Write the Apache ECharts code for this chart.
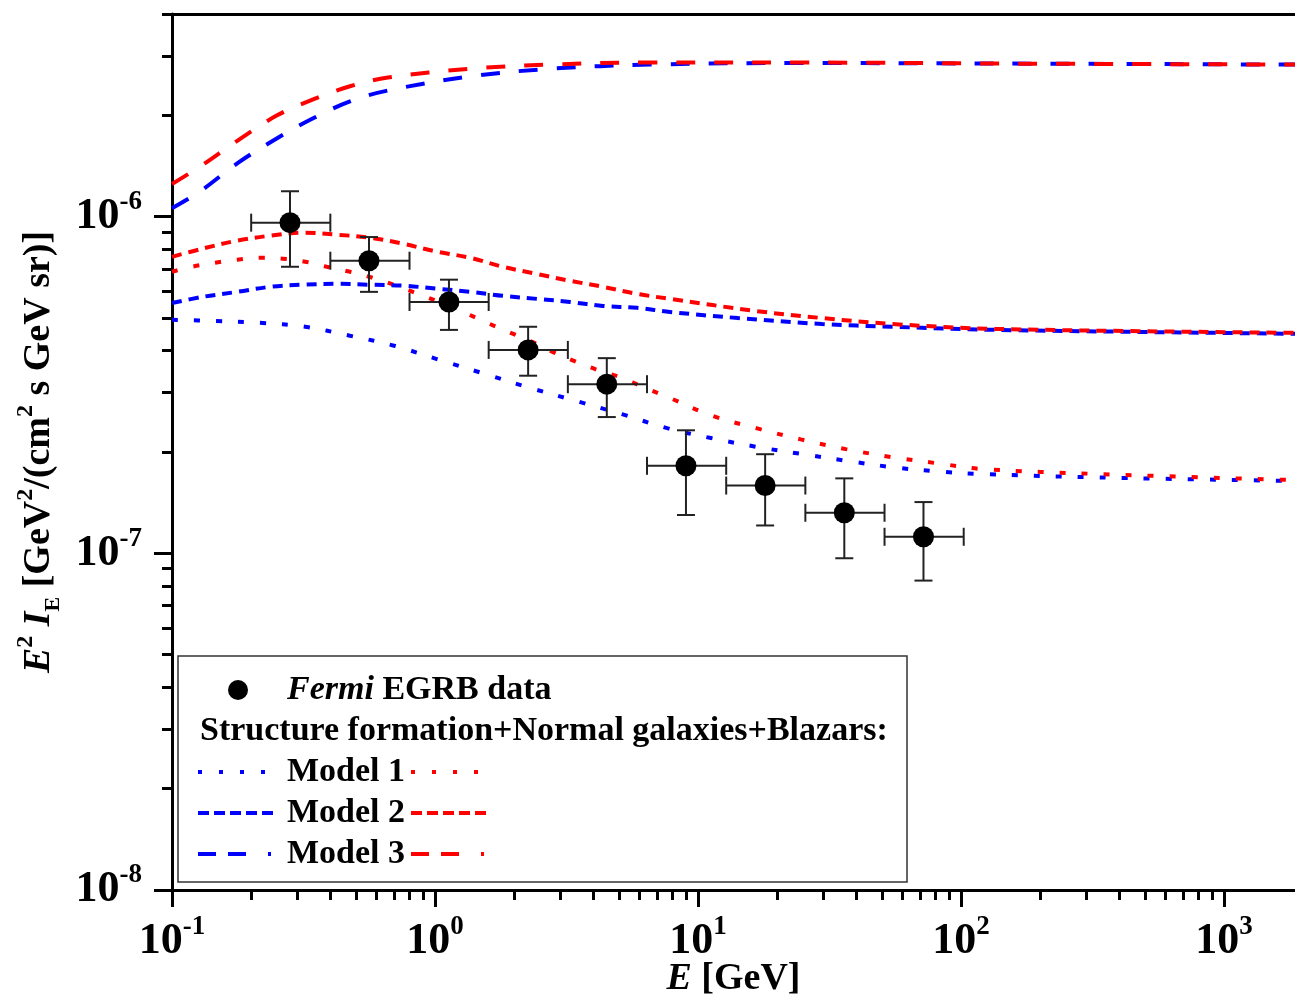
<!DOCTYPE html>
<html><head><meta charset="utf-8">
<script src="https://cdn.jsdelivr.net/npm/echarts@6/dist/echarts.min.js"></script>
<style>html,body{margin:0;padding:0;background:#fff}#c{width:1295px;height:1000px}</style>
</head><body><div id="c"></div>
<script>
// ---------- data ----------
const xMajorTicks = [0.1, 1, 10, 100, 1000];
const xMinorTicks = [0.2,0.3,0.4,0.5,0.6,0.7,0.8,0.9,2,3,4,5,6,7,8,9,20,30,40,50,60,70,80,90,200,300,400,500,600,700,800,900];
const yMajorTicks = [1e-8, 1e-7, 1e-6];
const yMinorTicks = [2e-8,3e-8,4e-8,5e-8,6e-8,7e-8,8e-8,9e-8,2e-7,3e-7,4e-7,5e-7,6e-7,7e-7,8e-7,9e-7,2e-6,3e-6,4e-6];

const fermiE      = [0.281, 0.561, 1.13, 2.26, 4.5, 9.0, 18, 36, 72];
const fermiFlux   = [9.6e-7, 7.4e-7, 5.58e-7, 4.02e-7, 3.18e-7, 1.82e-7, 1.59e-7, 1.32e-7, 1.12e-7];
const fermiFluxLo = [7.1e-7, 5.98e-7, 4.61e-7, 3.37e-7, 2.54e-7, 1.30e-7, 1.21e-7, 9.67e-8, 8.3e-8];
const fermiFluxHi = [1.19e-6, 8.7e-7, 6.5e-7, 4.71e-7, 3.8e-7, 2.32e-7, 1.97e-7, 1.67e-7, 1.42e-7];
const fermiBinEdges = [0.2, 0.4, 0.8, 1.6, 3.2, 6.4, 12.8, 25.6, 51.2, 102.4];

const model1BlueE = [0.1, 0.146, 0.216, 0.321, 0.475, 0.705, 1.045, 1.55, 2.30, 3.47, 5.14, 7.69, 11.2, 16.8, 25.1, 37.2, 55.7, 82.5, 121, 337, 1862];
const model1Blue  = [4.94e-7, 4.90e-7, 4.84e-7, 4.71e-7, 4.43e-7, 4.13e-7, 3.75e-7, 3.41e-7, 3.10e-7, 2.83e-7, 2.59e-7, 2.35e-7, 2.20e-7, 2.07e-7, 1.97e-7, 1.88e-7, 1.80e-7, 1.75e-7, 1.72e-7, 1.68e-7, 1.64e-7];
const model1RedE  = [0.1, 0.119, 0.146, 0.177, 0.216, 0.264, 0.321, 0.388, 0.475, 0.581, 0.717, 0.861, 1.06, 1.28, 1.55, 1.90, 2.34, 2.81, 3.47, 4.17, 5.14, 6.18, 7.69, 11.2, 16.8, 24.6, 36.5, 54.7, 81.8, 121, 337, 1862];
const model1Red   = [6.86e-7, 7.10e-7, 7.30e-7, 7.45e-7, 7.55e-7, 7.50e-7, 7.35e-7, 7.10e-7, 6.86e-7, 6.58e-7, 6.23e-7, 5.90e-7, 5.54e-7, 5.21e-7, 4.87e-7, 4.55e-7, 4.25e-7, 3.96e-7, 3.70e-7, 3.50e-7, 3.32e-7, 3.12e-7, 2.91e-7, 2.57e-7, 2.35e-7, 2.18e-7, 2.04e-7, 1.93e-7, 1.85e-7, 1.78e-7, 1.72e-7, 1.65e-7];

const model2BlueE = [0.1, 0.131, 0.177, 0.236, 0.315, 0.424, 0.566, 0.756, 1.02, 1.36, 1.81, 2.44, 3.26, 4.35, 5.86, 7.83, 14.2, 29.6, 54.7, 137, 1862];
const model2Blue  = [5.54e-7, 5.78e-7, 5.98e-7, 6.19e-7, 6.28e-7, 6.32e-7, 6.28e-7, 6.24e-7, 6.11e-7, 5.98e-7, 5.82e-7, 5.70e-7, 5.58e-7, 5.43e-7, 5.36e-7, 5.21e-7, 5.00e-7, 4.80e-7, 4.71e-7, 4.61e-7, 4.49e-7];
const model2RedE  = [0.1, 0.131, 0.177, 0.236, 0.315, 0.424, 0.566, 0.756, 1.02, 1.36, 1.81, 2.44, 3.26, 4.35, 5.86, 7.83, 16.5, 29.6, 54.7, 137, 1862];
const model2Red   = [7.60e-7, 8.04e-7, 8.49e-7, 8.78e-7, 8.96e-7, 8.84e-7, 8.66e-7, 8.31e-7, 7.87e-7, 7.55e-7, 7.10e-7, 6.76e-7, 6.45e-7, 6.19e-7, 5.90e-7, 5.70e-7, 5.25e-7, 5.00e-7, 4.80e-7, 4.64e-7, 4.52e-7];

const model3E     = [0.1, 0.128, 0.177, 0.251, 0.344, 0.475, 0.662, 1.36, 2.74, 6.57, 24.4, 141, 1862];
const model3Blue  = [1.06e-6, 1.19e-6, 1.44e-6, 1.71e-6, 1.96e-6, 2.20e-6, 2.37e-6, 2.61e-6, 2.75e-6, 2.83e-6, 2.86e-6, 2.85e-6, 2.83e-6];
const model3Red   = [1.25e-6, 1.41e-6, 1.68e-6, 2.00e-6, 2.23e-6, 2.44e-6, 2.59e-6, 2.75e-6, 2.83e-6, 2.87e-6, 2.87e-6, 2.85e-6, 2.83e-6];

const legendTitle = 'Structure formation+Normal galaxies+Blazars:';
const modelNames = ['Model 1', 'Model 2', 'Model 3'];

// ---------- styling ----------
const FONT = "'Liberation Serif','Times New Roman',serif";
const BLUE = '#0000ff', RED = '#ff0000';
const DOT = [6, 16], SHORT = [10, 7], LONG = [19, 19];
const X_MIN = 0.1, X_MAX = 1862, Y_MIN = 1e-8, Y_MAX = 4e-6;

const pairs = (xs, ys) => xs.map((x, i) => [x, ys[i]]);
const expLabel = v => '{b|10}{s|' + Math.round(Math.log10(v)) + '}';
const tickRich = {
  b: {fontSize: 44, fontWeight: 'bold', fontFamily: FONT, color: '#000', lineHeight: 56},
  s: {fontSize: 27, fontWeight: 'bold', fontFamily: FONT, color: '#000', verticalAlign: 'top'}
};
const titleRich = {
  n: {fontSize: 38, fontWeight: 'bold', fontFamily: FONT, color: '#000', lineHeight: 50},
  i: {fontSize: 38, fontWeight: 'bold', fontStyle: 'italic', fontFamily: FONT, color: '#000', lineHeight: 50},
  s: {fontSize: 24, fontWeight: 'bold', fontFamily: FONT, color: '#000', verticalAlign: 'top'},
  sub: {fontSize: 22, fontWeight: 'bold', fontFamily: FONT, color: '#000', verticalAlign: 'bottom'}
};

function lineSeries(xs, ys, color, dash) {
  return {
    type: 'line', data: pairs(xs, ys), showSymbol: false, smooth: 0.35,
    lineStyle: {color: color, width: 4, type: dash, cap: 'butt'}, z: 3, silent: true
  };
}

const chart = echarts.init(document.getElementById('c'), null, {renderer: 'canvas'});

const legendX = 178, legendY = 656, legendW = 729, legendH = 226;
const rowY = [772, 813, 854];
const LFS = 34;
const legendEls = [
  {type: 'rect', shape: {x: legendX, y: legendY, width: legendW, height: legendH},
   style: {fill: '#fff', stroke: '#333', lineWidth: 1.5}, z: 100},
  {type: 'circle', shape: {cx: 238, cy: 690, r: 10}, style: {fill: '#000'}, z: 101},
  {type: 'text', x: 287, y: 690, z: 101, style: {
    text: '{i|Fermi}{n| EGRB data}', verticalAlign: 'middle',
    rich: {
      i: {fontSize: LFS, fontWeight: 'bold', fontStyle: 'italic', fontFamily: FONT, fill: '#000'},
      n: {fontSize: LFS, fontWeight: 'bold', fontFamily: FONT, fill: '#000'}
    }}},
  {type: 'text', x: 200, y: 731, z: 101, style: {
    text: legendTitle, fontSize: LFS, fontWeight: 'bold', fontFamily: FONT, fill: '#000', verticalAlign: 'middle'}}
];
const sampleDashes = [[4, 17], [11, 5], [18, 12, 18, 22, 3, 100]];
modelNames.forEach((name, k) => {
  const y = rowY[k];
  legendEls.push({type: 'line', shape: {x1: 198, y1: y, x2: 276, y2: y}, z: 101,
    style: {stroke: BLUE, lineWidth: 4, lineDash: sampleDashes[k]}});
  legendEls.push({type: 'text', x: 287, y: y, z: 101, style: {
    text: name, fontSize: LFS, fontWeight: 'bold', fontFamily: FONT, fill: '#000', verticalAlign: 'middle'}});
  legendEls.push({type: 'line', shape: {x1: 411, y1: y, x2: 491, y2: y}, z: 101,
    style: {stroke: RED, lineWidth: 4, lineDash: sampleDashes[k]}});
});

const option = {
  backgroundColor: '#fff',
  animation: false,
  grid: {left: 172, right: 0, top: 14, bottom: 110, containLabel: false, outerBoundsMode: 'none'},
  xAxis: [
    {type: 'log', logBase: 10, min: X_MIN, max: X_MAX, position: 'bottom',
     axisLine: {show: true, lineStyle: {color: '#000', width: 3}},
     axisTick: {show: true, customValues: xMajorTicks, length: 17, lineStyle: {color: '#000', width: 3}},
     axisLabel: {show: true, customValues: xMajorTicks, formatter: expLabel, rich: tickRich, margin: 24},
     splitLine: {show: false}, minorTick: {show: false},
     name: '{i|E}{n| [GeV]}', nameLocation: 'middle', nameGap: 64, nameMoveOverlap: false,
     nameTextStyle: {rich: titleRich}},
    {type: 'log', logBase: 10, min: X_MIN, max: X_MAX, position: 'bottom',
     axisLine: {show: false},
     axisTick: {show: true, customValues: xMinorTicks, length: 10, lineStyle: {color: '#000', width: 3}},
     axisLabel: {show: false}, splitLine: {show: false}},
    {type: 'log', logBase: 10, min: X_MIN, max: X_MAX, position: 'top',
     axisLine: {show: true, lineStyle: {color: '#000', width: 3}},
     axisTick: {show: false}, axisLabel: {show: false}, splitLine: {show: false}}
  ],
  yAxis: [
    {type: 'log', logBase: 10, min: Y_MIN, max: Y_MAX, position: 'left',
     axisLine: {show: true, lineStyle: {color: '#000', width: 3}},
     axisTick: {show: true, customValues: yMajorTicks, length: 18, lineStyle: {color: '#000', width: 3}},
     axisLabel: {show: true, customValues: yMajorTicks, formatter: expLabel, rich: tickRich, margin: 30},
     splitLine: {show: false},
     name: '{i|E}{s|2}{n| }{i|I}{sub|E}{n| [GeV}{s|2}{n|/(cm}{s|2}{n| s GeV sr)]}',
     nameLocation: 'middle', nameGap: 108, nameRotate: 90, nameMoveOverlap: false,
     nameTextStyle: {rich: titleRich}},
    {type: 'log', logBase: 10, min: Y_MIN, max: Y_MAX, position: 'left',
     axisLine: {show: false},
     axisTick: {show: true, customValues: yMinorTicks, length: 10, lineStyle: {color: '#000', width: 3}},
     axisLabel: {show: false}, splitLine: {show: false}}
  ],
  series: [
    lineSeries(model1BlueE, model1Blue, BLUE, DOT),
    lineSeries(model1RedE, model1Red, RED, DOT),
    lineSeries(model2BlueE, model2Blue, BLUE, SHORT),
    lineSeries(model2RedE, model2Red, RED, SHORT),
    lineSeries(model3E, model3Blue, BLUE, LONG),
    lineSeries(model3E, model3Red, RED, LONG),
    {
      type: 'custom', z: 5, silent: true,
      data: fermiE.map((e, i) => [e, fermiFlux[i], fermiBinEdges[i], fermiBinEdges[i + 1], fermiFluxLo[i], fermiFluxHi[i]]),
      encode: {x: [0, 2, 3], y: [1, 4, 5]},
      renderItem: function (params, api) {
        const c = api.coord([api.value(0), api.value(1)]);
        const l = api.coord([api.value(2), api.value(1)]);
        const r = api.coord([api.value(3), api.value(1)]);
        const lo = api.coord([api.value(0), api.value(4)]);
        const hi = api.coord([api.value(0), api.value(5)]);
        const h = 9;
        const st = {stroke: '#222', lineWidth: 2, fill: null};
        const seg = (x1, y1, x2, y2) => ({type: 'line', shape: {x1, y1, x2, y2}, style: st});
        return {type: 'group', children: [
          seg(l[0], c[1], r[0], c[1]),
          seg(l[0], c[1] - h, l[0], c[1] + h),
          seg(r[0], c[1] - h, r[0], c[1] + h),
          seg(c[0], lo[1], c[0], hi[1]),
          seg(c[0] - h, lo[1], c[0] + h, lo[1]),
          seg(c[0] - h, hi[1], c[0] + h, hi[1])
        ]};
      }
    },
    {
      type: 'scatter', z: 6, silent: true, data: pairs(fermiE, fermiFlux),
      symbol: 'circle', symbolSize: 21, itemStyle: {color: '#000', opacity: 1}
    }
  ],
  graphic: {elements: legendEls}
};
chart.setOption(option);
</script>
</body></html>
